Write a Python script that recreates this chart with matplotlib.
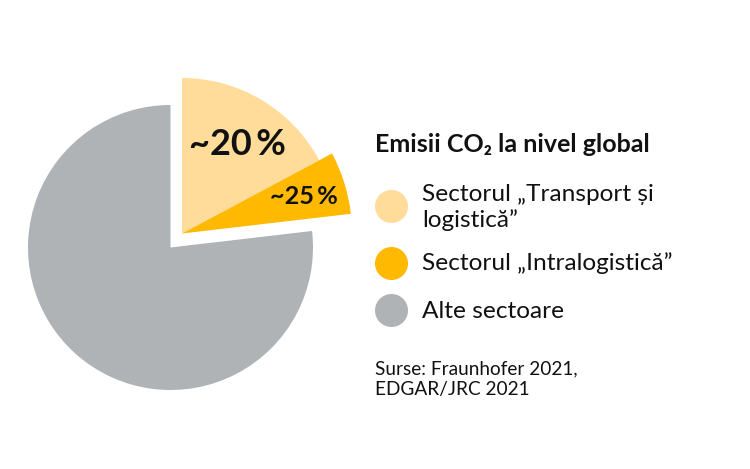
import matplotlib
matplotlib.use("Agg")
import matplotlib.pyplot as plt

# Shares of the full circle
light_share = 0.172
orange_share = 0.0595
grey_share = 0.7685

COLORS = ["#FFDC9A", "#FFB900", "#B0B3B5"]
LEGEND_Y = [206, 262.5, 309.5]
TITLE = "Emisii CO₂ la nivel global"
LEGEND_LABELS = ["Sectorul „Transport și\nlogistică”", "Sectorul „Intralogistică”", "Alte sectoare"]
SOURCE = "Surse: Fraunhofer 2021,\nEDGAR/JRC 2021"
W, H = 750, 469  # canvas in pixels

plt.rcParams["font.family"] = ["Lato", "DejaVu Sans"]
TEXT = "#111111"

fig = plt.figure(figsize=(W / 100, H / 100), dpi=100)
ax = fig.add_axes([0, 0, 1, 1])

# Three pies so each part can have its own radius and offset
ax.pie([grey_share], colors=[COLORS[2]], center=(170.5, H - 247.5), radius=142.5,
       startangle=90, normalize=False)
ax.pie([light_share], colors=[COLORS[0]], center=(182, H - 233.5), radius=155.5,
       startangle=90 - light_share * 360, normalize=False)
ax.pie([orange_share], colors=[COLORS[1]], center=(182, H - 233.5), radius=170,
       startangle=90 - (light_share + orange_share) * 360, normalize=False)

ax.set_xlim(0, W)
ax.set_ylim(0, H)
ax.set_aspect("equal")
ax.axis("off")

# Value labels
ax.text(189, H - 144, "~20\u2009%", fontsize=26, fontweight="bold", color=TEXT, va="center", ha="left")
ax.text(270, H - 196, "~25\u2009%", fontsize=18.2, fontweight="bold", color=TEXT, va="center", ha="left")

# Legend
ax.text(375, H - 144, TITLE, fontsize=18, fontweight="bold", color=TEXT, va="center", ha="left")
for y, c in zip(LEGEND_Y, COLORS):
    ax.scatter([391], [H - y], s=566, color=c, linewidths=0)
ax.text(422, H - 194, LEGEND_LABELS[0].split("\n")[0], fontsize=17.6, color=TEXT, va="center", ha="left")
ax.text(422, H - 220, LEGEND_LABELS[0].split("\n")[1], fontsize=17.6, color=TEXT, va="center", ha="left")
ax.text(422, H - 263, LEGEND_LABELS[1], fontsize=17.6, color=TEXT, va="center", ha="left")
ax.text(422, H - 311, LEGEND_LABELS[2], fontsize=17.6, color=TEXT, va="center", ha="left")

# Source
ax.text(375, H - 369, SOURCE.split("\n")[0], fontsize=13.7, color=TEXT, va="center", ha="left")
ax.text(375, H - 390, SOURCE.split("\n")[1], fontsize=13.7, color=TEXT, va="center", ha="left")

fig.savefig("out.png", dpi=100, facecolor="white")
